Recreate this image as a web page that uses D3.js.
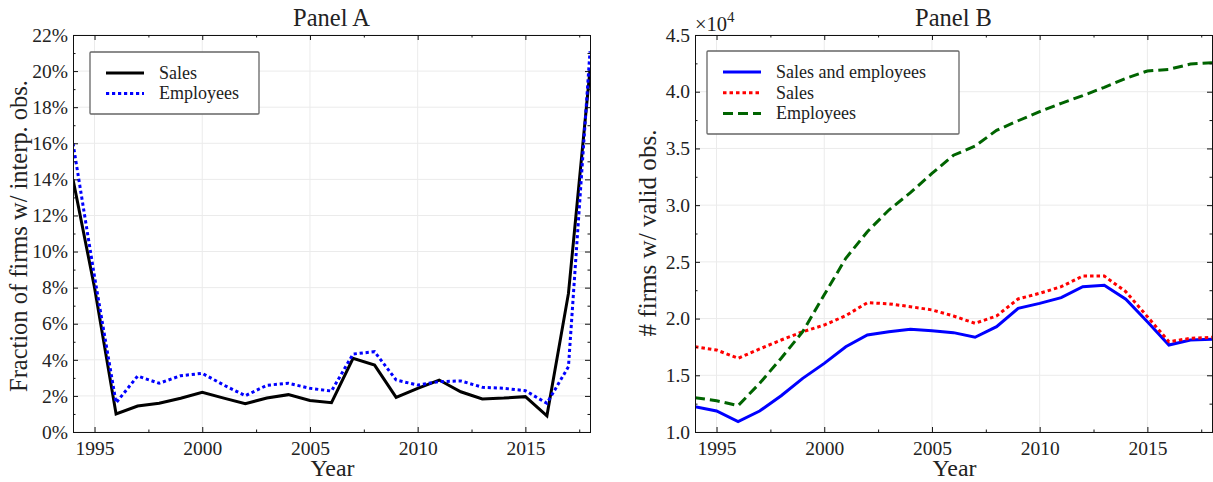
<!DOCTYPE html>
<html><head><meta charset="utf-8">
<script src="https://cdn.jsdelivr.net/npm/d3@7"></script>
<style>
body{margin:0;background:#fff;}
text{font-family:"Liberation Serif","Times New Roman",serif;fill:#222;}
</style></head>
<body><svg id="c" width="1213" height="482"></svg>
<script>
const years = [1994,1995,1996,1997,1998,1999,2000,2001,2002,2003,2004,2005,2006,2007,2008,2009,2010,2011,2012,2013,2014,2015,2016,2017,2018];
// Panel A: fraction of firms with interpolated observations (%)
const salesA = [14.0,8.0,1.0,1.44,1.59,1.87,2.2,1.88,1.57,1.88,2.07,1.75,1.62,4.08,3.71,1.92,2.42,2.88,2.23,1.83,1.88,1.96,0.9,7.68,20.06];
const empA = [16.0,8.6,1.62,3.1,2.7,3.12,3.25,2.6,2.01,2.59,2.7,2.42,2.27,4.32,4.45,2.88,2.6,2.79,2.83,2.48,2.42,2.29,1.59,3.62,21.1];
// Panel B: number of firms with valid observations
const bothB = [12230,11850,10910,11850,13200,14730,16050,17520,18550,18840,19050,18930,18760,18350,19290,20900,21340,21840,22810,22930,21700,19720,17670,18110,18170];
const salesB = [17520,17230,16500,17320,18110,18840,19430,20260,21400,21300,21050,20760,20230,19580,20230,21730,22230,22810,23750,23750,22370,20170,17960,18260,18350];
const empB = [13030,12760,12320,14290,16500,18840,22100,25310,27660,29570,31100,32800,34400,35200,36600,37440,38240,38980,39650,40390,41180,41830,41970,42440,42560];
const xTicks = [1995,2000,2005,2010,2015];
const xMinor = [1997.5,2002.5,2007.5,2012.5,2017.5];
const yTicksA = [0,2,4,6,8,10,12,14,16,18,20,22];
const yTicksB = [10000,15000,20000,25000,30000,35000,40000,45000];

const svg = d3.select("#c");
const pTop = 35, pBot = 432;

// scale a text's font so that its width matches the width seen in the reference
function fit(sel, base, target){
  sel.style("font-size", base+"px");
  const w = sel.node().getComputedTextLength();
  if (w > 0) sel.style("font-size", (base*target/w).toFixed(2)+"px");
  return sel;
}

function panel(opt){
  const g = svg.append("g");
  const x = d3.scaleLinear().domain([1994,2018]).range([opt.left,opt.right]);
  const y = d3.scaleLinear().domain(opt.ydom).range([pBot,pTop]);
  const id = "clip"+opt.name;
  svg.append("clipPath").attr("id",id).append("rect")
    .attr("x",opt.left).attr("y",pTop).attr("width",opt.right-opt.left).attr("height",pBot-pTop);
  // grid
  g.append("g").selectAll("line").data(xTicks).join("line")
    .attr("x1",d=>x(d)).attr("x2",d=>x(d)).attr("y1",pTop).attr("y2",pBot)
    .attr("stroke","#ebebeb").attr("stroke-width",1);
  g.append("g").selectAll("line").data(opt.yticks).join("line")
    .attr("y1",d=>y(d)).attr("y2",d=>y(d)).attr("x1",opt.left).attr("x2",opt.right)
    .attr("stroke","#ebebeb").attr("stroke-width",1);
  // series
  const line = d3.line().x((d,i)=>x(years[i])).y(d=>y(d));
  const lg = g.append("g").attr("clip-path",`url(#${id})`);
  opt.series.forEach(s=>{
    lg.append("path").datum(s.data).attr("d",line).attr("fill","none")
      .attr("stroke",s.color).attr("stroke-width",3).attr("stroke-dasharray",s.dash||null)
      .attr("stroke-linejoin","miter");
  });
  // axes (inward ticks on all sides)
  const axB = d3.axisBottom(x).tickValues(xTicks).tickSize(-5).tickPadding(9).tickFormat(d3.format("d"));
  const axT = d3.axisTop(x).tickValues(xTicks).tickSize(-5).tickFormat("");
  const axL = d3.axisLeft(y).tickValues(opt.yticks).tickSize(-5).tickPadding(5).tickFormat(opt.fmt);
  const axR = d3.axisRight(y).tickValues(opt.yticks).tickSize(-5).tickFormat("");
  const mB = d3.axisBottom(x).tickValues(xMinor).tickSize(-2.5).tickFormat("");
  const mT = d3.axisTop(x).tickValues(xMinor).tickSize(-2.5).tickFormat("");
  const mL = d3.axisLeft(y).tickValues(opt.yminor).tickSize(-2.5).tickFormat("");
  const mR = d3.axisRight(y).tickValues(opt.yminor).tickSize(-2.5).tickFormat("");
  const mk = (ax,tr)=>{const a=g.append("g").attr("transform",tr).call(ax);
    a.select(".domain").attr("stroke","#111"); a.selectAll(".tick line").attr("stroke","#111");
    a.selectAll("text").style("font-family",'"Liberation Serif",serif').style("font-size","19.5px").attr("fill","#222");
    return a;};
  mk(mB,`translate(0,${pBot})`); mk(mT,`translate(0,${pTop})`);
  mk(mL,`translate(${opt.left},0)`); mk(mR,`translate(${opt.right},0)`);
  mk(axB,`translate(0,${pBot})`); mk(axT,`translate(0,${pTop})`);
  mk(axL,`translate(${opt.left},0)`); mk(axR,`translate(${opt.right},0)`);
  // titles
  fit(g.append("text").attr("x",(opt.left+opt.right)/2).attr("y",26).attr("text-anchor","middle")
    .text(opt.title), 22, 77);
  fit(g.append("text").attr("x",(opt.left+opt.right)/2+1).attr("y",476).attr("text-anchor","middle")
    .text("Year"), 21, 44);
  fit(g.append("text").attr("transform",`translate(${opt.ylabX},${opt.ylabY}) rotate(-90)`)
    .attr("text-anchor","middle").text(opt.ylabel), 21, opt.ylabW);
  // legend
  const L = opt.legend;
  g.append("rect").attr("x",L.x).attr("y",L.y).attr("width",L.w).attr("height",L.h)
    .attr("fill","#fff").attr("stroke","#666").attr("stroke-width",1.3).attr("rx",1);
  opt.series.forEach((s,i)=>{
    const yy = L.y + L.first + i*L.step;
    g.append("line").attr("x1",L.x+16).attr("x2",L.x+54).attr("y1",yy).attr("y2",yy)
      .attr("stroke",s.color).attr("stroke-width",3).attr("stroke-dasharray",s.dash||null);
    g.append("text").attr("x",L.x+69).attr("y",yy).attr("dy","0.33em").style("font-size",L.font+"px").text(s.name);
  });
  return {x,y,g};
}

panel({name:"A",left:73,right:590,ydom:[0,22],yticks:yTicksA,
  yminor:d3.range(1,22,2),fmt:d=>d+"%",title:"Panel A",
  ylabel:"Fraction of firms w/ interp. obs.",ylabX:27,ylabY:236,ylabW:312,
  series:[{name:"Sales",data:salesA,color:"#000"},
          {name:"Employees",data:empA,color:"#0000ff",dash:"3.2,2.8"}],
  legend:{x:90,y:52,w:169,h:62,first:21,step:20.5,font:18}});

panel({name:"B",left:695,right:1212,ydom:[10000,45000],yticks:yTicksB,
  yminor:d3.range(12500,45000,5000),fmt:d=>d3.format(".1f")(d/1e4),title:"Panel B",
  ylabel:"# firms w/ valid obs.",ylabX:656,ylabY:233,ylabW:207,
  series:[{name:"Sales and employees",data:bothB,color:"#0000ff"},
          {name:"Sales",data:salesB,color:"#ff0000",dash:"3.5,3"},
          {name:"Employees",data:empB,color:"#006400",dash:"10,5"}],
  legend:{x:707,y:51,w:252,h:83,first:21,step:20.7,font:18}});

const ex = svg.append("text").attr("x",695).attr("y",31).style("font-size","20.5px");
ex.append("tspan").text("×10");
ex.append("tspan").attr("dy",-9).style("font-size","15px").text("4");
</script></body></html>
